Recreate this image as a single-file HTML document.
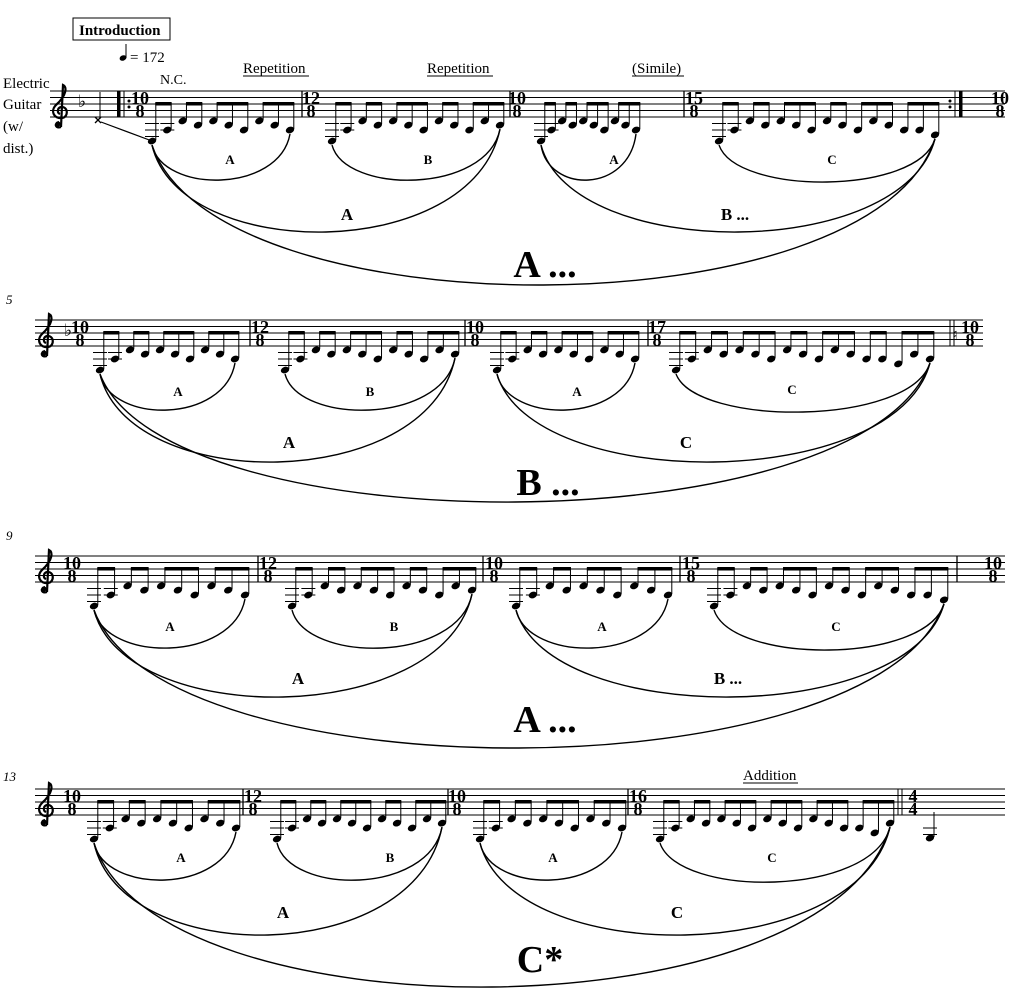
<!DOCTYPE html>
<html><head><meta charset="utf-8"><style>
html,body{margin:0;padding:0;background:#fff;}
svg{display:block;font-family:"Liberation Serif",serif;}
.ts{font-weight:bold;font-size:18px;}
.lb{font-weight:bold;font-size:13px;text-anchor:middle;}
.md{font-weight:bold;font-size:17px;text-anchor:middle;}
.bg{font-weight:bold;font-size:38px;text-anchor:middle;}
.tx{font-size:15px;}
</style></head><body>
<svg id="s" width="1011" height="1000" viewBox="0 0 1011 1000" xmlns="http://www.w3.org/2000/svg">
<g id="g"></g>
<rect x="73" y="18" width="97" height="22" fill="none" stroke="#000" stroke-width="1"/>
<text x="79" y="35" style="font-weight:bold;font-size:15px">Introduction</text>
<ellipse cx="123" cy="58" rx="3.5" ry="2.6" fill="#000" transform="rotate(-20 123 58)"/>
<line x1="126" y1="58" x2="126" y2="44" stroke="#000" stroke-width="1"/>
<text x="130" y="62" class="tx">= 172</text>
<text x="160" y="84" style="font-size:14px">N.C.</text>
<text x="243" y="73" class="tx">Repetition</text><line x1="243" y1="76" x2="309" y2="76" stroke="#000"/>
<text x="427" y="73" class="tx">Repetition</text><line x1="427" y1="76" x2="493" y2="76" stroke="#000"/>
<text x="632" y="73" class="tx">(Simile)</text><line x1="632" y1="76" x2="684" y2="76" stroke="#000"/>
<text x="3" y="88" class="tx">Electric</text>
<text x="3" y="109" class="tx">Guitar</text>
<text x="3" y="131" class="tx">(w/</text>
<text x="3" y="153" class="tx">dist.)</text>
<text x="6" y="304" style="font-size:13px;font-style:italic">5</text>
<text x="6" y="540" style="font-size:13px;font-style:italic">9</text>
<text x="3" y="781" style="font-size:13px;font-style:italic">13</text>
<text x="743" y="780" class="tx">Addition</text><line x1="743" y1="783" x2="798" y2="783" stroke="#000"/>
<text x="230" y="164" class="lb">A</text><text x="428" y="164" class="lb">B</text><text x="614" y="164" class="lb">A</text><text x="832" y="164" class="lb">C</text>
<text x="347" y="220" class="md">A</text><text x="735" y="220" class="md">B ...</text>
<text x="545" y="277" class="bg">A ...</text>
<text x="178" y="396" class="lb">A</text><text x="370" y="396" class="lb">B</text><text x="577" y="396" class="lb">A</text><text x="792" y="394" class="lb">C</text>
<text x="289" y="448" class="md">A</text><text x="686" y="448" class="md">C</text>
<text x="548" y="495" class="bg">B ...</text>
<text x="170" y="631" class="lb">A</text><text x="394" y="631" class="lb">B</text><text x="602" y="631" class="lb">A</text><text x="836" y="631" class="lb">C</text>
<text x="298" y="684" class="md">A</text><text x="728" y="684" class="md">B ...</text>
<text x="545" y="732" class="bg">A ...</text>
<text x="181" y="862" class="lb">A</text><text x="390" y="862" class="lb">B</text><text x="553" y="862" class="lb">A</text><text x="772" y="862" class="lb">C</text>
<text x="283" y="918" class="md">A</text><text x="677" y="918" class="md">C</text>
<text x="540" y="972" class="bg">C*</text>
<g id="ts"></g>
</svg>
<script>
var NS="http://www.w3.org/2000/svg",G=document.getElementById("g"),TS=document.getElementById("ts");
function el(n,a,p){var e=document.createElementNS(NS,n);for(var k in a)e.setAttribute(k,a[k]);(p||G).appendChild(e);return e;}
function ln(x1,y1,x2,y2,w){el("line",{x1:x1,y1:y1,x2:x2,y2:y2,stroke:"#000","stroke-width":w||1});}
function tsig(x,top,n,d){var t=el("text",{x:x,y:top+13,"class":"ts","text-anchor":"middle"},TS);t.textContent=n;
 var b=el("text",{x:x,y:top+26,"class":"ts","text-anchor":"middle"},TS);b.textContent=d;}
function clef(x,top){
 el("path",{d:"M"+(x+9)+" "+(top+36)+" C"+(x+3)+" "+(top+38)+" "+(x+2)+" "+(top+32)+" "+(x+7)+" "+(top+31)+
 " M"+(x+9)+" "+(top+36)+" L"+(x+11)+" "+(top-6)+" C"+(x+15)+" "+(top-4)+" "+(x+15)+" "+(top+4)+" "+(x+4)+" "+(top+14)+
 " C"+(x-2)+" "+(top+20)+" "+(x+2)+" "+(top+28)+" "+(x+10)+" "+(top+27)+" C"+(x+17)+" "+(top+26)+" "+(x+16)+" "+(top+15)+" "+(x+9)+" "+(top+16)+" C"+(x+5)+" "+(top+17)+" "+(x+5)+" "+(top+22)+" "+(x+8)+" "+(top+23),
 fill:"none",stroke:"#000","stroke-width":2.2});
 el("circle",{cx:x+6,cy:top+33,r:2.6,fill:"#000"});}
function flat(x,top){el("text",{x:x,y:top+16,style:"font-size:17px;font-family:'DejaVu Sans',sans-serif"},TS).textContent="\u266d";}
var base=[7.4,4,1.2,2.5,1.2,2.5,4,1.2,2.5,4,1.2,2.5,4,2.5,4,5.5,5.5];
var groups={10:[2,2,3,3],12:[2,2,3,2,3],15:[2,2,3,2,3,3],17:[2,2,3,2,3,2,3],16:[2,2,3,3,3,3]};
function measure(top,x0,x1,n){var sp=6.5,bot=top+4*sp,dx=(x1-x0)/(n-1),xs=[],ys=[];
 for(var i=0;i<n;i++){var s=base[i%17];if(i>=10&&n>10){s=[1.2,2.5,4,4,5.5,2.5,4,5.5][(i-10)%8];}
  var x=x0+i*dx,y=bot+s*sp/2;xs.push(x);ys.push(y);
  if(i<2){for(var k=1;k*sp<=s*sp/2+1;k++)ln(x-7,bot+k*sp,x+7,bot+k*sp,1);}
  el("ellipse",{cx:x,cy:y,rx:4.3,ry:3.2,fill:"#000",transform:"rotate(-22 "+x+" "+y+")"});}
 var gr=groups[n]||[2,2,3,3],idx=0;
 gr.forEach(function(g){if(idx>=n)return;var a=idx,b=Math.min(n-1,idx+g-1);var by=top+2*sp-1;
  for(var j=a;j<=b;j++)ln(xs[j]+3.8,ys[j]-1,xs[j]+3.8,by,1);
  if(b>a)el("rect",{x:xs[a]+3.3,y:by-1,width:xs[b]-xs[a]+1,height:3.5,fill:"#000"});idx+=g;});
 return {x0:x0,y0:ys[0]+4,x1:xs[n-1],y1:ys[n-1]+4};}
function arc(a,b,bottom,w){var cy=(8*bottom-a[1]-b[1])/6,dx=(b[0]-a[0]);
 el("path",{d:"M"+a[0]+" "+a[1]+" C"+(a[0]+dx*0.08)+" "+cy+" "+(b[0]-dx*0.08)+" "+cy+" "+b[0]+" "+b[1],fill:"none",stroke:"#000","stroke-width":w||1.4});}
var S=[
 {top:91,sx:50,ex:1005,clx:52,fl:78,ms:[[140,"10",152,290,10,302],[311,"12",332,500,12,510],[517,"10",541,636,10,684],[694,"15",719,935,15,null]],ar:[180,232,285]},
 {top:320,sx:35,ex:983,clx:38,fl:64,ms:[[80,"10",100,235,10,250],[260,"12",285,455,12,465],[475,"10",497,635,10,648],[657,"17",676,930,17,null]],ar:[410,462,502]},
 {top:556,sx:35,ex:1005,clx:38,fl:0,ms:[[72,"10",94,245,10,258],[268,"12",292,472,12,483],[494,"10",516,668,10,680],[691,"15",714,944,15,957]],ar:[648,697,748]},
 {top:789,sx:35,ex:1005,clx:38,fl:0,ms:[[72,"10",94,236,10,243],[253,"12",277,442,12,448],[457,"10",480,622,10,628],[638,"16",660,890,16,null]],ar:[880,935,987]}
];
S.forEach(function(s){var sp=6.5,top=s.top;
 for(var i=0;i<5;i++)ln(s.sx,top+i*sp,s.ex,top+i*sp,1);
 clef(s.clx,top);if(s.fl)flat(s.fl,top);
 var r=[];
 s.ms.forEach(function(m){tsig(m[0],top,m[1],"8");r.push(measure(top,m[2],m[3],m[4]));if(m[5])ln(m[5],top,m[5],top+4*sp,1.3);});
 var P=function(o,e){return e?[o.x1,o.y1]:[o.x0,o.y0];};
 arc(P(r[0]),P(r[0],1),s.ar[0]);arc(P(r[1]),P(r[1],1),s.ar[0]);arc(P(r[2]),P(r[2],1),s.ar[0]);arc(P(r[3]),P(r[3],1),s.ar[0]+2);
 arc(P(r[0]),P(r[1],1),s.ar[1]);arc(P(r[2]),P(r[3],1),s.ar[1]);arc(P(r[0]),P(r[3],1),s.ar[2]);
});
var t=91,sp=6.5;
ln(95,117,101,123,1.3);ln(101,117,95,123,1.3);ln(100,119,100,92,1);ln(101,122,152,141,1.2);
el("rect",{x:117,y:t,width:3.5,height:26,fill:"#000"});ln(124,t,124,t+26,1);
el("circle",{cx:129,cy:t+10,r:1.5,fill:"#000"});el("circle",{cx:129,cy:t+16,r:1.5,fill:"#000"});
el("circle",{cx:950,cy:t+10,r:1.5,fill:"#000"});el("circle",{cx:950,cy:t+16,r:1.5,fill:"#000"});
ln(955,t,955,t+26,1);el("rect",{x:959,y:t,width:3.5,height:26,fill:"#000"});
tsig(1000,t,"10","8");
t=320;ln(950,t,950,t+26,1);ln(954,t,954,t+26,1);tsig(970,t,"10","8");
el("text",{x:952,y:t+20,style:"font-size:16px;font-family:'DejaVu Sans',sans-serif"},TS).textContent="\u266e";
tsig(993,556,"10","8");
t=789;ln(898,t,898,t+26,1);ln(902,t,902,t+26,1);
el("text",{x:913,y:t+13,"class":"ts","text-anchor":"middle"},TS).textContent="4";
el("text",{x:913,y:t+26,"class":"ts","text-anchor":"middle"},TS).textContent="4";
el("ellipse",{cx:930,cy:838,rx:4.3,ry:3.2,fill:"#000",transform:"rotate(-22 930 838)"});ln(934,837,934,812,1);ln(923,828,937,828,1);ln(923,834.5,937,834.5,1);
</script>
</body></html>
